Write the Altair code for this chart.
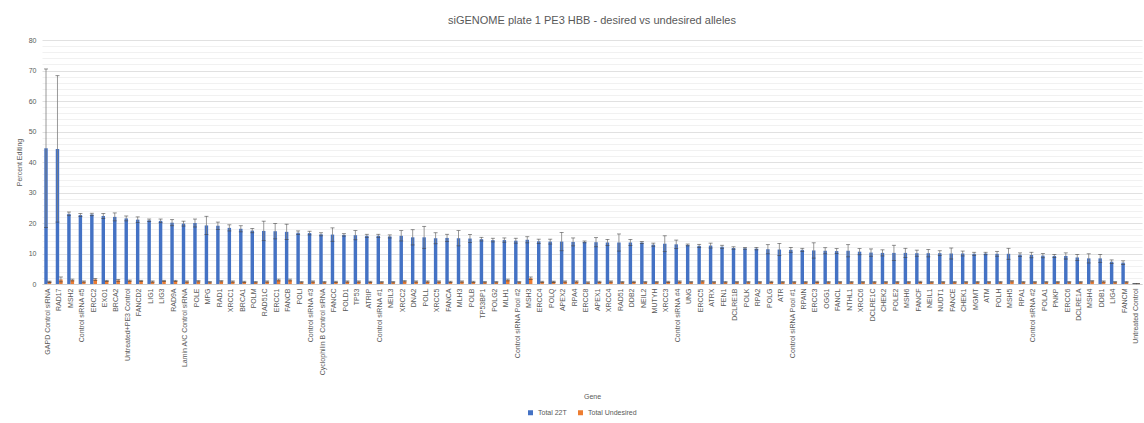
import altair as alt
import pandas as pd

genes = [
    "GAPD Control siRNA", "RAD17", "MSH2", "Control siRNA #5", "ERCC2", "EXO1", "BRCA2",
    "Untreated+PE3 Control", "FANCD2", "LIG1", "LIG3", "RAD9A", "Lamin A/C Control siRNA",
    "POLE", "MPG", "RAD1", "XRCC1", "BRCA1", "POLM", "RAD51C", "ERCC1", "FANCB", "POLI",
    "Control siRNA #3", "Cyclophilin B Control siRNA", "FANCC", "POLD1", "TP53", "ATRIP",
    "Control siRNA #1", "NEIL3", "XRCC2", "DNA2", "POLL", "XRCC5", "FANCA", "MLH3", "POLB",
    "TP53BP1", "POLG2", "MLH1", "Control siRNA Pool #2", "MSH3", "ERCC4", "POLQ", "APEX2",
    "RPA4", "ERCC8", "APEX1", "XRCC4", "RAD51", "DDB2", "NEIL2", "MUTYH", "XRCC3",
    "Control siRNA #4", "UNG", "ERCC5", "ATRX", "FEN1", "DCLRE1B", "POLK", "RPA2", "POLG",
    "ATR", "Control siRNA Pool #1", "RPAIN", "ERCC3", "OGG1", "FANCL", "NTHL1", "XRCC6",
    "DCLRE1C", "CHEK2", "POLE2", "MSH6", "FANCF", "NEIL1", "NUDT1", "FANCE", "CHEK1", "MGMT",
    "ATM", "POLH", "MSH5", "RPA1", "Control siRNA #2", "POLA1", "PNKP", "ERCC6", "DCLRE1A",
    "MSH4", "DDB1", "LIG4", "FANCM", "Untreated Control",
]

total_22t = [
    44.5, 44.3, 23.0, 22.6, 22.8, 22.3, 22.0, 21.5, 21.1, 20.9, 20.7, 20.1, 19.8,
    20.0, 19.2, 19.1, 18.4, 18.1, 17.5, 17.4, 17.3, 17.1, 16.8, 16.7, 16.3, 16.2, 16.1, 16.0, 15.8,
    15.8, 15.6, 15.8, 15.3, 15.3, 15.0, 15.1, 15.0, 14.9, 14.7, 14.4, 14.4, 14.2, 14.5, 14.0, 13.9, 13.9,
    13.8, 13.8, 13.7, 13.6, 13.6, 13.6, 13.6, 12.9, 13.2, 13.0, 12.8, 12.5, 12.6, 12.2, 11.8, 11.7, 11.6, 11.4,
    11.3, 11.2, 11.2, 11.0, 10.9, 10.8, 10.9, 10.6, 10.3, 10.2, 10.2, 10.2, 10.1, 10.1, 10.1, 10.0, 10.0, 9.9,
    10.0, 9.9, 9.9, 9.6, 9.5, 9.3, 9.2, 9.2, 8.7, 8.4, 8.4, 7.3, 7.0, 0.1,
]

total_22t_err = [
    26.0, 24.0, 0.6, 0.5, 0.4, 0.8, 1.3, 0.8, 0.9, 0.4, 0.6, 1.0, 0.8,
    1.3, 3.0, 1.2, 1.0, 1.0, 0.7, 3.2, 2.5, 2.5, 0.6, 0.6, 0.5, 2.2, 0.4, 1.5, 0.5,
    0.5, 0.5, 1.7, 2.5, 3.6, 1.8, 1.2, 2.5, 1.3, 0.6, 0.6, 0.7, 0.8, 1.0, 0.7, 0.8, 3.0,
    1.3, 0.3, 1.5, 1.0, 2.8, 1.0, 0.3, 0.5, 2.6, 1.4, 0.3, 0.5, 0.8, 0.5, 0.4, 0.3, 0.4, 1.5,
    2.0, 0.8, 0.5, 2.5, 1.0, 0.8, 2.0, 1.0, 1.2, 1.0, 2.5, 1.5, 1.0, 1.2, 0.8, 1.8, 0.8, 0.5,
    0.4, 0.8, 1.8, 0.6, 0.9, 0.7, 0.5, 1.0, 1.0, 1.5, 1.3, 0.6, 0.6, 0.0,
]

total_undesired = [
    0.7, 1.5, 1.3, 0.8, 1.5, 1.0, 1.2, 1.1, 1.0, 0.8, 1.0, 1.0, 0.8,
    0.9, 0.6, 0.9, 0.8, 0.7, 0.6, 0.8, 1.3, 1.3, 0.6, 0.8, 0.6, 0.7, 0.8, 0.8, 0.7,
    0.6, 0.6, 0.9, 0.8, 0.8, 0.8, 0.7, 0.8, 0.7, 0.6, 0.6, 1.3, 0.6, 1.9, 0.7, 0.7, 0.8,
    0.8, 0.5, 0.7, 0.8, 0.6, 0.7, 0.6, 0.6, 0.7, 0.8, 0.6, 0.9, 0.6, 0.6, 0.6, 0.6, 0.6, 0.7,
    0.6, 0.6, 0.6, 0.7, 0.6, 0.6, 0.6, 0.6, 0.6, 0.6, 0.6, 0.6, 0.7, 0.6, 0.6, 0.6, 0.6, 0.6,
    0.6, 0.6, 0.9, 0.6, 0.6, 0.6, 0.6, 0.6, 0.6, 0.9, 0.8, 0.6, 0.6, 0.1,
]

total_undesired_err = [
    0.2, 0.8, 0.3, 0.2, 0.3, 0.2, 0.3, 0.2, 0.2, 0.2, 0.2, 0.2, 0.2,
    0.2, 0.2, 0.2, 0.2, 0.2, 0.2, 0.2, 0.3, 0.3, 0.2, 0.2, 0.2, 0.2, 0.2, 0.2, 0.2,
    0.2, 0.2, 0.2, 0.2, 0.2, 0.2, 0.2, 0.2, 0.2, 0.2, 0.2, 0.3, 0.2, 0.4, 0.2, 0.2, 0.2,
    0.2, 0.2, 0.2, 0.2, 0.2, 0.2, 0.2, 0.2, 0.2, 0.2, 0.2, 0.2, 0.2, 0.2, 0.2, 0.2, 0.2, 0.2,
    0.2, 0.2, 0.2, 0.2, 0.2, 0.2, 0.2, 0.2, 0.2, 0.2, 0.2, 0.2, 0.2, 0.2, 0.2, 0.2, 0.2, 0.2,
    0.2, 0.2, 0.2, 0.2, 0.2, 0.2, 0.2, 0.2, 0.2, 0.2, 0.2, 0.2, 0.2, 0.0,
]

series_names = ["Total 22T", "Total Undesired"]
series_colors = ["#4472C4", "#ED7D31"]

rows = []
for g, v, e in zip(genes, total_22t, total_22t_err):
    rows.append({"gene": g, "series": series_names[0], "value": v, "lo": max(v - e, 0), "hi": v + e})
for g, v, e in zip(genes, total_undesired, total_undesired_err):
    rows.append({"gene": g, "series": series_names[1], "value": v, "lo": max(v - e, 0), "hi": v + e})
df = pd.DataFrame(rows)

FONT = "Liberation Sans"
GRAY = "#595959"

x_enc = alt.X(
    "gene:N", sort=genes, title="Gene",
    scale=alt.Scale(paddingInner=0.4, paddingOuter=0.2),
    axis=alt.Axis(labelAngle=-90, labelFontSize=7, labelColor=GRAY, labelFont=FONT,
                  ticks=False, domainColor="#d0d0d0", labelPadding=4,
                  titleFontSize=7, titleColor=GRAY, titleFont=FONT, titleFontWeight="normal",
                  titleY=108, labelOverlap=False, labelLimit=200),
)
xoff = alt.XOffset("series:N", sort=series_names, scale=alt.Scale(paddingInner=0.0))

base = alt.Chart(df).encode(x=x_enc, xOffset=xoff)

y_vals = list(range(0, 81, 2))
y_axis = alt.Axis(values=y_vals, tickCount=len(y_vals), labelOverlap=False,
                  labelExpr="datum.value % 10 === 0 ? datum.label : ''",
                  labelFontSize=7, labelColor=GRAY, labelFont=FONT, labelPadding=6,
                  ticks=False, domain=False,
                  gridColor={"condition": {"test": "datum.value % 10 === 0", "value": "#d9d9d9"},
                             "value": "#ededed"},
                  gridWidth=0.8,
                  titleFontSize=7, titleColor=GRAY, titleFont=FONT,
                  titleFontWeight="normal", titlePadding=6)

bars = base.mark_bar().encode(
    y=alt.Y("value:Q", title="Percent Editing",
            scale=alt.Scale(domain=[0, 80], nice=False), axis=y_axis),
    color=alt.Color("series:N", sort=series_names,
                    scale=alt.Scale(domain=series_names, range=series_colors),
                    legend=alt.Legend(title=None, orient="none", direction="horizontal",
                                      legendX=485, legendY=369, symbolType="square",
                                      symbolSize=25, labelFontSize=7, labelColor=GRAY,
                                      labelFont=FONT, columnPadding=10, symbolStrokeWidth=0)),
)

err_rule = base.mark_rule(color="#7f7f7f", strokeWidth=0.8).encode(
    y=alt.Y("lo:Q", title="Percent Editing", axis=y_axis), y2="hi:Q")
cap_hi = base.mark_tick(color="#404040", thickness=0.8, size=4).encode(
    y=alt.Y("hi:Q", title="Percent Editing", axis=y_axis))
cap_lo = base.mark_tick(color="#404040", thickness=0.8, size=4).encode(
    y=alt.Y("lo:Q", title="Percent Editing", axis=y_axis))

chart = alt.layer(bars, err_rule, cap_hi, cap_lo).properties(
    width=1100, height=244,
    title=alt.Title("siGENOME plate 1 PE3 HBB - desired vs undesired alleles",
                    fontSize=11, color=GRAY, font=FONT, fontWeight="normal",
                    anchor="middle", offset=10),
    autosize=alt.AutoSizeParams(type="none"),
    padding={"left": 42, "top": 40, "right": 2, "bottom": 139},
    background="white",
).configure_view(stroke=None)

chart.save("out.html", embed_options={"renderer": "svg", "actions": False})
